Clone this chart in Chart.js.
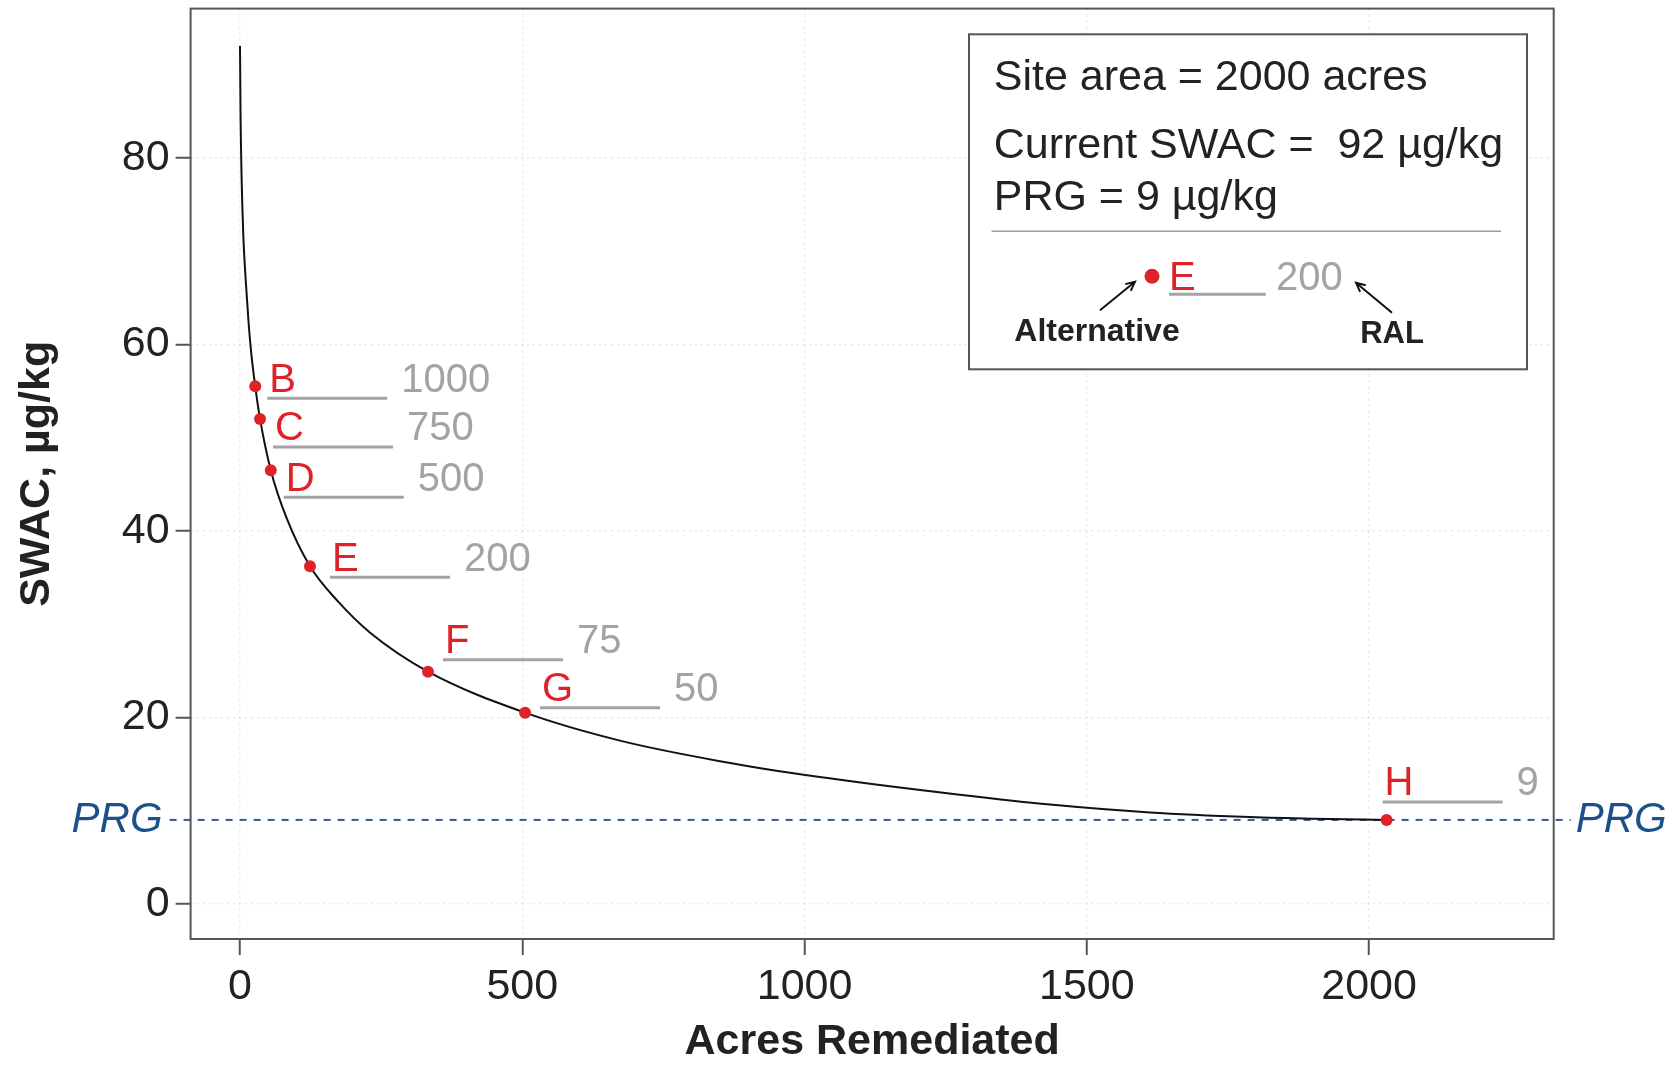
<!DOCTYPE html>
<html>
<head>
<meta charset="utf-8">
<script src="https://cdn.jsdelivr.net/npm/chart.js@4.4.0/dist/chart.umd.min.js"></script>
<style>
  html, body { margin: 0; padding: 0; background: #fff; }
  #wrap { width: 1679px; height: 1065px; }
</style>
</head>
<body>
<div id="wrap"><canvas id="myChart" width="1679" height="1065"></canvas></div>
<script>
// SWAC curve: acres remediated -> SWAC (µg/kg)
const curveAcres = [0, 1, 3, 6, 10, 15, 20, 27, 35.5, 54.5, 83, 124, 174, 230, 333, 505, 673, 850, 1027, 1275, 1435, 1612, 1789, 1900, 2031];
const curveSwac = [92, 84.5, 77.5, 71.5, 67, 62.5, 59, 55.5, 52, 46.5, 41.3, 36.2, 32.4, 29.1, 24.9, 20.5, 17.5, 15.3, 13.6, 11.7, 10.65, 9.8, 9.3, 9.12, 9];

// remedial alternatives
const alternatives = ['B', 'C', 'D', 'E', 'F', 'G', 'H'];
const altAcres = [27, 35.5, 54.5, 124, 333, 505, 2031];
const altSwac = [55.5, 52, 46.5, 36.2, 24.9, 20.5, 9];
const ralValues = [1000, 750, 500, 200, 75, 50, 9];

const xTicks = [0, 500, 1000, 1500, 2000];
const yTicks = [0, 20, 40, 60, 80];

const siteArea = 2000;
const currentSwac = 92;
const prg = 9;

const FONT = '"Liberation Sans", Arial, Helvetica, sans-serif';
const RED = '#df2229';
const GRAY = '#a3a3a3';

// where each label sits relative to its dot (pixels): start of the underline
const labelOffsets = [[12, 12], [13, 28], [13, 27], [20, 11], [15, -12], [15, -5], [-4, -18]];

Chart.defaults.font.family = FONT;

function arrow(ctx, x0, y0, x1, y1) {
  const ang = Math.atan2(y1 - y0, x1 - x0);
  const h = 10;
  ctx.beginPath();
  ctx.moveTo(x0, y0);
  ctx.lineTo(x1, y1);
  ctx.moveTo(x1 - h * Math.cos(ang - 0.45), y1 - h * Math.sin(ang - 0.45));
  ctx.lineTo(x1, y1);
  ctx.lineTo(x1 - h * Math.cos(ang + 0.45), y1 - h * Math.sin(ang + 0.45));
  ctx.stroke();
}

function noPad(s) {
  s.paddingTop = 0;
  s.paddingBottom = 0;
  s.paddingLeft = 0;
  s.paddingRight = 0;
}

const annotate = {
  id: 'annotate',
  beforeDatasetsDraw(chart) {
    const { ctx, chartArea: a, scales: { y } } = chart;
    const py = y.getPixelForValue(prg);
    ctx.save();
    // PRG reference line
    ctx.strokeStyle = '#2f5b8f';
    ctx.lineWidth = 2;
    ctx.setLineDash([7, 7]);
    ctx.beginPath();
    ctx.moveTo(a.left - 21, py);
    ctx.lineTo(a.right + 17, py);
    ctx.stroke();
    ctx.setLineDash([]);
    ctx.font = 'italic 42px ' + FONT;
    ctx.fillStyle = '#1d4f8a';
    ctx.textBaseline = 'middle';
    ctx.textAlign = 'right';
    ctx.fillText('PRG', a.left - 28, py);
    ctx.textAlign = 'left';
    ctx.fillText('PRG', a.right + 22, py);
    ctx.restore();
  },
  afterDatasetsDraw(chart) {
    const { ctx, chartArea: a, scales: { x, y } } = chart;
    ctx.save();

    // plot box
    ctx.strokeStyle = '#555';
    ctx.lineWidth = 2;
    ctx.strokeRect(a.left, a.top, a.right - a.left, a.bottom - a.top);

    // alternative labels
    ctx.textBaseline = 'alphabetic';
    ctx.textAlign = 'left';
    ctx.font = '40px ' + FONT;
    alternatives.forEach((name, i) => {
      const px = x.getPixelForValue(altAcres[i]);
      const py = y.getPixelForValue(altSwac[i]);
      const lx = px + labelOffsets[i][0];
      const ly = py + labelOffsets[i][1];
      ctx.strokeStyle = GRAY;
      ctx.lineWidth = 3;
      ctx.beginPath();
      ctx.moveTo(lx, ly);
      ctx.lineTo(lx + 120, ly);
      ctx.stroke();
      ctx.fillStyle = RED;
      ctx.fillText(name, lx + 2, ly - 6.5);
      ctx.fillStyle = GRAY;
      ctx.fillText(String(ralValues[i]), lx + 134, ly - 6.5);
    });

    // legend box
    const bx = a.right - 26.7 - 558;
    const by = a.top + 25.7;
    ctx.fillStyle = '#fff';
    ctx.fillRect(bx, by, 558, 335);
    ctx.strokeStyle = '#555';
    ctx.lineWidth = 2;
    ctx.strokeRect(bx, by, 558, 335);

    ctx.fillStyle = '#222';
    ctx.font = '43px ' + FONT;
    ctx.fillText('Site area = ' + siteArea + ' acres', bx + 24.7, by + 56);
    ctx.fillText('Current SWAC =  ' + currentSwac + ' µg/kg', bx + 24.7, by + 124);
    ctx.fillText('PRG = ' + prg + ' µg/kg', bx + 24.7, by + 176);

    ctx.strokeStyle = '#999';
    ctx.lineWidth = 1.5;
    ctx.beginPath();
    ctx.moveTo(bx + 22.6, by + 197);
    ctx.lineTo(bx + 532, by + 197);
    ctx.stroke();

    ctx.fillStyle = RED;
    ctx.beginPath();
    ctx.arc(bx + 183, by + 242, 7.5, 0, Math.PI * 2);
    ctx.fill();
    ctx.font = '40px ' + FONT;
    ctx.fillText(alternatives[3], bx + 200, by + 255.7);
    ctx.fillStyle = GRAY;
    ctx.fillText(String(ralValues[3]), bx + 307, by + 255.7);
    ctx.strokeStyle = GRAY;
    ctx.lineWidth = 3;
    ctx.beginPath();
    ctx.moveTo(bx + 200, by + 260);
    ctx.lineTo(bx + 296.7, by + 260);
    ctx.stroke();

    ctx.strokeStyle = '#111';
    ctx.lineWidth = 2;
    arrow(ctx, bx + 131, by + 276, bx + 166, by + 247.5);
    arrow(ctx, bx + 423, by + 278.5, bx + 387, by + 248.5);

    ctx.fillStyle = '#222';
    ctx.textAlign = 'center';
    ctx.textBaseline = 'middle';
    ctx.font = 'bold 32px ' + FONT;
    ctx.fillText('Alternative', bx + 128, by + 297.7);
    ctx.font = 'bold 31px ' + FONT;
    ctx.fillText('RAL', bx + 423, by + 299.7);

    ctx.restore();
  }
};

new Chart('myChart', {
  type: 'scatter',
  data: {
    datasets: [
      {
        data: curveAcres.map((v, i) => ({ x: v, y: curveSwac[i] })),
        showLine: true,
        borderColor: '#111',
        borderWidth: 2,
        pointRadius: 0,
        cubicInterpolationMode: 'monotone',
        order: 2
      },
      {
        data: altAcres.map((v, i) => ({ x: v, y: altSwac[i] })),
        pointRadius: 6,
        pointBackgroundColor: RED,
        pointBorderWidth: 0,
        clip: false,
        order: 1
      }
    ]
  },
  options: {
    responsive: false,
    animation: false,
    layout: { padding: { left: 0, right: 125.3, top: 8.6, bottom: 0 } },
    plugins: { legend: { display: false }, tooltip: { enabled: false } },
    scales: {
      x: {
        type: 'linear',
        min: -87.5,
        max: 2327,
        afterBuildTicks: s => { s.ticks = xTicks.map(v => ({ value: v })); },
        afterFit: s => { s.height = 126; noPad(s); },
        grid: { color: 'rgba(0,0,0,0.09)', lineWidth: 1.5, tickLength: 16, tickColor: '#555', tickWidth: 2 },
        border: { display: false, dash: [2, 4] },
        ticks: { font: { size: 43 }, color: '#222', padding: 6, maxRotation: 0, callback: v => String(v) },
        title: {
          display: true,
          text: 'Acres Remediated',
          color: '#222',
          font: { size: 43, weight: 'bold', lineHeight: 1 },
          padding: { top: 0, bottom: 1 }
        }
      },
      y: {
        min: -3.77,
        max: 96,
        afterBuildTicks: s => { s.ticks = yTicks.map(v => ({ value: v })); },
        afterFit: s => { s.width = 190.6; noPad(s); },
        grid: { color: 'rgba(0,0,0,0.09)', lineWidth: 1.5, tickLength: 15, tickColor: '#555', tickWidth: 2 },
        border: { display: false, dash: [2, 4] },
        ticks: { font: { size: 43 }, color: '#222', padding: 6, callback: v => String(v) },
        title: {
          display: true,
          text: 'SWAC, µg/kg',
          color: '#222',
          font: { size: 43, weight: 'bold', lineHeight: 1.2 },
          padding: { top: 11, bottom: 0 }
        }
      }
    }
  },
  plugins: [annotate]
});
</script>
</body>
</html>
